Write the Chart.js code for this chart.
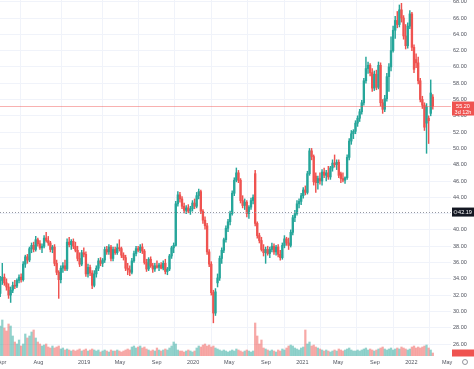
<!DOCTYPE html>
<html><head><meta charset="utf-8">
<script src="https://cdn.jsdelivr.net/npm/chart.js@4.4.1/dist/chart.umd.min.js"></script>
<style>html,body{margin:0;padding:0;background:#fff;}canvas{display:block;}</style>
</head><body>
<canvas id="c" width="474" height="369" style="width:474px;height:369px"></canvas>
<script>
// weekly candles, first week starting 2018-03-26
const startDate = '2018-03-26';
const open = [
32.2,33.8,34.2,33.5,33.0,32.0,32.6,33.2,33.1,33.8,
34.2,33.9,35.8,36.7,36.3,37.7,38.1,37.6,38.8,38.3,
37.8,38.0,39.0,38.7,38.4,37.6,37.9,35.9,34.8,33.9,
35.3,35.6,35.2,38.5,38.2,38.6,38.0,37.5,36.5,35.8,
37.2,37.0,34.6,35.4,34.7,33.2,34.6,35.3,36.2,35.9,
36.3,37.6,37.3,37.9,36.5,37.6,37.2,37.8,37.7,36.9,
36.6,35.3,35.1,34.8,36.2,37.1,37.7,37.5,37.9,37.4,
36.0,35.2,36.4,35.6,35.2,35.6,35.4,35.7,35.3,35.9,
34.9,35.2,36.8,37.8,38.1,43.2,44.3,43.8,42.9,42.4,
42.7,42.3,42.6,43.3,42.9,44.2,44.7,42.3,41.2,40.5,
37.3,35.8,32.3,29.8,33.5,34.1,36.5,37.5,38.8,40.2,
41.0,42.0,44.5,46.1,47.0,46.1,43.6,43.0,43.4,42.0,
42.8,43.6,46.9,40.8,39.3,38.7,37.6,37.2,37.6,37.1,
37.6,38.0,37.3,37.9,37.0,36.6,38.1,38.9,38.4,38.1,
39.7,41.5,42.0,43.2,43.5,44.2,44.9,44.6,46.9,49.7,
49.0,46.6,45.8,46.3,46.0,47.1,46.7,47.0,46.5,47.6,
48.2,48.0,48.3,46.9,46.3,46.1,46.4,48.9,50.9,51.8,
52.1,53.1,53.7,54.5,55.6,58.3,59.8,60.2,59.3,57.4,
59.1,57.5,60.2,55.6,54.8,56.1,58.8,60.0,62.0,64.5,
65.7,65.2,67.0,66.0,63.8,62.6,65.0,66.5,62.4,60.9,
60.5,58.3,56.0,55.3,53.1,53.7,54.3,56.3];
const high = [
34.3,35.9,34.6,34.0,33.4,33.0,33.6,33.8,34.0,34.5,
34.6,36.1,36.9,37.0,37.9,38.4,38.5,39.2,39.0,38.7,
38.3,39.3,39.7,39.2,38.6,38.1,38.2,36.3,35.0,35.6,
36.0,36.3,38.9,39.1,38.8,38.9,38.5,38.0,37.2,37.5,
37.8,37.3,35.8,35.7,35.0,35.0,35.6,36.5,36.6,36.5,
37.9,38.0,38.2,38.1,37.9,37.9,38.3,38.8,37.9,37.2,
36.9,35.9,35.6,36.5,37.4,38.0,38.0,38.2,38.3,37.6,
36.4,36.6,36.7,35.9,35.9,36.2,35.9,36.0,36.2,36.4,
35.4,37.0,38.0,38.4,43.5,44.7,44.6,44.1,43.3,43.0,
43.1,42.9,43.6,43.8,44.6,45.0,44.9,42.5,41.6,40.8,
37.6,36.1,32.6,32.8,34.6,36.8,37.8,39.0,40.5,41.3,
42.3,44.8,46.4,47.6,47.3,46.3,44.2,43.8,43.6,43.0,
43.9,44.3,47.3,41.0,39.6,39.1,38.2,37.9,38.0,37.9,
38.4,38.3,38.1,38.2,37.5,38.4,39.3,39.1,39.0,40.0,
41.8,42.4,43.6,43.8,44.5,45.2,45.4,47.2,50.0,50.0,
49.2,47.0,46.6,47.0,47.4,47.6,47.3,47.8,47.8,48.6,
49.2,48.6,48.6,47.1,47.0,46.5,49.2,51.2,52.2,52.3,
53.4,54.0,54.8,55.9,58.6,61.2,60.6,60.4,59.8,59.5,
59.6,60.6,60.5,56.0,56.5,59.2,60.4,63.7,65.0,66.2,
66.8,67.6,67.8,66.3,65.2,65.4,66.9,66.7,62.7,61.6,
61.2,58.6,56.4,55.6,55.5,54.0,58.4,56.6];
const low = [
31.8,33.3,33.2,32.6,31.6,31.1,32.3,32.8,32.9,33.5,
33.6,33.7,35.4,35.9,36.1,37.2,37.3,37.4,38.0,37.6,
37.2,37.8,38.5,38.1,37.3,37.2,35.6,34.5,31.6,33.5,
34.8,35.0,35.0,37.9,37.6,37.7,37.3,36.2,35.5,35.6,
36.7,34.3,34.2,34.4,32.8,33.0,34.2,35.0,35.6,35.5,
36.0,37.0,37.0,36.2,36.2,37.0,37.0,37.4,36.6,36.3,
35.0,34.5,34.4,34.6,36.0,36.8,37.3,37.2,37.1,35.8,
34.9,35.0,35.4,34.8,34.9,35.3,35.0,35.2,35.1,34.6,
34.5,35.0,36.5,37.2,38.0,42.9,43.4,42.6,42.1,42.0,
42.1,41.9,42.3,42.6,42.7,43.8,42.0,40.8,40.1,37.0,
35.5,32.0,28.6,29.5,33.0,33.8,35.9,37.2,38.5,39.8,
40.6,41.8,44.2,45.9,45.8,43.3,42.7,42.5,41.6,41.4,
42.5,43.2,40.5,39.0,38.4,37.4,36.8,35.9,36.9,36.6,
37.3,37.0,36.9,36.7,36.3,36.4,37.8,38.1,37.6,37.9,
39.4,41.0,41.8,42.7,43.1,43.9,44.3,44.4,46.7,48.6,
45.5,44.6,45.0,45.6,45.5,46.4,46.0,46.2,46.2,47.2,
47.7,47.4,46.4,45.8,45.9,45.7,46.2,48.6,50.5,51.2,
51.8,52.7,53.3,54.2,55.3,58.0,59.2,58.9,57.0,57.1,
57.2,57.3,55.2,54.3,54.5,55.8,57.0,59.5,61.8,63.5,
64.8,64.9,65.5,63.4,62.2,62.3,64.7,62.0,59.3,59.9,
57.9,55.7,54.9,52.2,49.4,50.6,54.0,54.8];
const close = [
33.8,34.2,33.5,33.0,32.0,32.6,33.2,33.1,33.8,34.2,
33.9,35.8,36.7,36.3,37.7,38.1,37.6,38.8,38.3,37.8,
38.0,39.0,38.7,38.4,37.6,37.9,35.9,34.8,33.9,35.3,
35.6,35.2,38.5,38.2,38.6,38.0,37.5,36.5,35.8,37.2,
37.0,34.6,35.4,34.7,33.2,34.6,35.3,36.2,35.9,36.3,
37.6,37.3,37.9,36.5,37.6,37.2,37.8,37.7,36.9,36.6,
35.3,35.1,34.8,36.2,37.1,37.7,37.5,37.9,37.4,36.0,
35.2,36.4,35.6,35.2,35.6,35.4,35.7,35.3,35.9,34.9,
35.2,36.8,37.8,38.1,43.2,44.3,43.8,42.9,42.4,42.7,
42.3,42.6,43.3,42.9,44.2,44.7,42.3,41.2,40.5,37.3,
35.8,32.3,29.8,32.4,34.1,36.5,37.5,38.8,40.2,41.0,
42.0,44.5,46.1,47.0,46.1,43.6,43.0,43.4,42.0,42.8,
43.6,44.0,40.8,39.3,38.7,37.6,37.2,37.6,37.1,37.6,
38.0,37.3,37.9,37.0,36.6,38.1,38.9,38.4,38.1,39.7,
41.5,42.0,43.2,43.5,44.2,44.9,44.6,46.9,49.7,49.0,
45.9,45.8,46.3,46.0,47.1,46.7,47.0,46.5,47.6,48.2,
48.0,48.3,46.7,46.3,46.1,46.4,48.9,50.9,51.8,52.1,
53.1,53.7,54.5,55.6,58.3,59.8,60.2,59.3,57.4,59.1,
57.5,60.2,55.6,54.8,56.1,58.8,60.0,62.0,64.5,65.7,
65.2,67.0,66.0,63.8,62.6,65.0,66.5,62.4,59.7,60.5,
58.3,56.0,55.3,52.6,55.1,53.4,56.8,55.2];
// weekly volume, millions
const volume = [
3.0,3.6,2.8,2.5,3.2,3.0,2.0,1.4,1.2,1.6,
1.0,1.2,2.2,1.8,2.0,2.4,2.6,1.8,1.4,1.2,
1.0,1.1,1.2,0.9,0.8,1.0,0.8,0.9,1.0,0.7,
0.8,0.6,0.7,0.6,0.5,0.6,0.5,0.6,0.7,0.5,
0.6,0.7,0.5,0.6,0.7,0.6,0.5,0.6,0.4,0.5,
0.6,0.5,0.4,0.6,0.5,0.5,0.6,0.5,0.4,0.5,
0.6,0.7,0.6,0.9,1.0,0.8,0.9,1.0,0.8,0.9,
0.7,0.6,0.5,0.6,0.5,0.8,0.6,0.5,0.6,0.7,
0.6,0.8,1.0,1.4,1.2,0.6,0.5,0.5,0.4,0.5,
0.6,0.5,0.4,0.5,0.8,1.0,0.9,1.1,1.2,1.0,
1.1,0.9,1.0,0.8,0.7,0.6,0.5,0.6,0.5,0.4,
0.5,0.6,0.5,0.7,0.6,0.5,0.4,0.5,0.6,0.5,
0.4,0.5,3.3,2.0,1.2,1.6,0.8,0.7,0.6,0.5,
0.6,0.5,0.4,0.6,0.5,0.7,0.6,0.8,1.0,1.1,
1.0,0.8,0.7,0.6,0.8,0.9,2.6,1.2,1.4,1.0,
1.1,0.9,0.8,0.7,0.6,0.5,0.6,0.5,0.4,0.5,
0.6,0.5,0.7,0.6,0.5,0.6,0.7,0.8,0.6,0.5,
0.5,0.6,0.5,0.6,0.7,0.8,0.6,0.7,0.6,0.5,
0.6,0.7,0.8,0.9,0.7,0.6,0.7,0.8,0.6,0.7,
0.8,0.7,0.9,0.8,0.7,0.6,0.7,0.9,1.0,0.8,
0.9,0.8,0.9,1.0,1.1,0.8,0.6,0.3];
const priceTicks = [26,28,30,32,34,36,38,40,42,44,46,48,50,52,54,56,58,60,62,64,66,68];
const xTickDates = ['2018-04-01','2018-08-01','2019-01-01','2019-05-01','2019-09-01','2020-01-01','2020-05-01','2020-09-01','2021-01-01','2021-05-01','2021-09-01','2022-01-01','2022-05-01'];
const xTickLabels = ['Apr','Aug','2019','May','Sep','2020','May','Sep','2021','May','Sep','2022','May'];
const refLevel = 42.19;

const UP = '#26a69a', DN = '#ef5350';
const FONT = "'Liberation Sans', Arial, sans-serif";
const weekIndex = d => (Date.parse(d) - Date.parse(startDate)) / (7 * 86400000);
const idx = open.map((_, i) => i);
const isUp = idx.map(i => close[i] >= open[i]);
const candleColors = idx.map(i => isUp[i] ? UP : DN);
const volColors = idx.map(i => isUp[i] ? 'rgba(38,166,154,0.5)' : 'rgba(239,83,80,0.5)');
const lastIdx = close.length - 1;
const lastPrice = close[lastIdx];

function box(ctx, x, y, w, h, fill) { ctx.fillStyle = fill; ctx.fillRect(x, y, w, h); }

const overlay = {
  id: 'overlay',
  afterDatasetsDraw(chart) {
    const { ctx, chartArea: a, scales: { y } } = chart;
    ctx.save();
    const ry = Math.round(y.getPixelForValue(refLevel)) + 0.5;
    ctx.strokeStyle = '#9598a1'; ctx.lineWidth = 1; ctx.setLineDash([1, 2]);
    ctx.beginPath(); ctx.moveTo(a.left, ry); ctx.lineTo(a.right, ry); ctx.stroke();
    const py = Math.round(y.getPixelForValue(lastPrice)) + 0.5;
    ctx.setLineDash([]); ctx.strokeStyle = 'rgba(239,83,80,0.45)';
    ctx.beginPath(); ctx.moveTo(a.left, py); ctx.lineTo(a.right, py); ctx.stroke();
    ctx.restore();
  },
  afterDraw(chart) {
    const { ctx, chartArea: a, scales: { y } } = chart;
    ctx.save();
    ctx.textBaseline = 'middle'; ctx.textAlign = 'center';
    ctx.font = `5.5px ${FONT}`;
    const W = chart.width;
    const ax = a.right + 1, aw = W - a.right - 1;
    const ry = y.getPixelForValue(refLevel);
    box(ctx, ax, ry - 4.5, aw, 9, '#131722');
    ctx.fillStyle = '#fff';
    ctx.fillText(refLevel.toFixed(2), ax + aw / 2 + 2, ry);
    ctx.strokeStyle = '#fff'; ctx.lineWidth = 0.6;
    ctx.beginPath(); ctx.arc(ax + 3.5, ry, 1.6, 0, Math.PI * 2); ctx.stroke();
    const py = y.getPixelForValue(lastPrice);
    box(ctx, ax, py - 4.5, aw, 14, DN);
    ctx.fillStyle = '#fff';
    ctx.fillText(lastPrice.toFixed(2), ax + aw / 2, py);
    ctx.fillText('3d 12h', ax + aw / 2, py + 6);
    const vy = chart.scales.v.getPixelForValue(volume[lastIdx]);
    box(ctx, ax, vy - 3.5, aw, 7, DN);
    ctx.strokeStyle = '#787b86'; ctx.lineWidth = 0.8;
    ctx.beginPath(); ctx.arc(W - 9, a.bottom + 6, 2.5, 0, Math.PI * 2); ctx.stroke();
    ctx.restore();
  }
};

new Chart(document.getElementById('c'), {
  type: 'bar',
  data: {
    datasets: [
      { label: 'Volume', yAxisID: 'v', order: 3,
        data: idx.map(i => ({ x: i, y: volume[i] })),
        backgroundColor: volColors, barThickness: 1.6 },
      { label: 'Wick', yAxisID: 'y', order: 2,
        data: idx.map(i => ({ x: i, y: [low[i], high[i]] })),
        backgroundColor: candleColors, barThickness: 0.8 },
      { label: 'Body', yAxisID: 'y', order: 1,
        data: idx.map(i => ({ x: i, y: [open[i], close[i]] })),
        backgroundColor: candleColors, barThickness: 1.7, minBarLength: 1 }
    ]
  },
  options: {
    responsive: false, animation: false, devicePixelRatio: 1,
    layout: { padding: 0 },
    datasets: { bar: { grouped: false, borderWidth: 0 } },
    plugins: { legend: { display: false }, tooltip: { enabled: false } },
    scales: {
      x: {
        type: 'linear', min: -0.1, max: 215.7, offset: false,
        grid: { color: '#f0f3fa', drawTicks: false },
        border: { display: false },
        afterBuildTicks: s => { s.ticks = xTickDates.map(d => ({ value: weekIndex(d) })); },
        afterFit: s => { s.height = 13; s.paddingLeft = 0; s.paddingRight = 0; },
        ticks: { autoSkip: false, maxRotation: 0, padding: 3, color: '#50535e',
          font: { family: FONT, size: 5.5 },
          callback: (v, i) => xTickLabels[i] }
      },
      y: {
        position: 'right', min: 24.53, max: 68.21,
        grid: { color: '#f0f3fa', drawTicks: false },
        border: { display: false },
        afterBuildTicks: s => { s.ticks = priceTicks.map(v => ({ value: v })); },
        afterFit: s => { s.width = 23; s.paddingTop = 0; s.paddingBottom = 0; },
        ticks: { autoSkip: false, padding: 2, color: '#50535e', crossAlign: 'center',
          font: { family: FONT, size: 5.5 },
          callback: v => Number(v).toFixed(2) }
      },
      v: { display: false, min: 0, max: 35.6 }
    }
  },
  plugins: [overlay]
});
</script>
</body></html>
